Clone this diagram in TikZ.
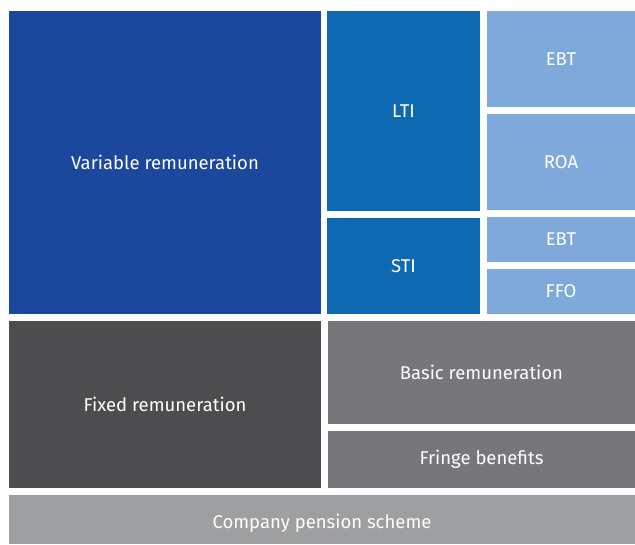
\documentclass[tikz,border=0pt]{standalone}
\usepackage{fontspec}
\setmainfont{Fira Sans}
\usepackage{tikz}

\definecolor{varblue}{HTML}{1B479C}
\definecolor{incblue}{HTML}{0F68B2}
\definecolor{kpiblue}{HTML}{7EA9DA}
\definecolor{fixgray}{HTML}{4D4D4F}
\definecolor{basegray}{HTML}{77777B}
\definecolor{pengray}{HTML}{9E9FA1}

\begin{document}
\begin{tikzpicture}[x=1pt, y=-1pt, font=\fontsize{18.5}{20}\selectfont]

	% --- Stili ---
	\tikzset{
		tile/.style={rectangle, draw=none, anchor=north west, inner sep=0pt, outer sep=0pt, text=white},
	}

	% --- Bordo ---
	\useasboundingbox (0,0) rectangle (635,544);

	% --- Remunerazione variabile ---
	\node[tile, fill=varblue, minimum width=312pt, minimum height=303pt] (variable) at (9,11) {Variable remuneration};
	\node[tile, fill=incblue, minimum width=153pt, minimum height=200pt] (lti) at (327,11) {LTI};
	\node[tile, fill=incblue, minimum width=153pt, minimum height=96pt] (sti) at (327,218) {STI};

	% Indicatori
	\node[tile, fill=kpiblue, minimum width=148pt, minimum height=96pt] (ebtL) at (487,11) {EBT};
	\node[tile, fill=kpiblue, minimum width=148pt, minimum height=96pt] (roa) at (487,114) {ROA};
	\node[tile, fill=kpiblue, minimum width=148pt, minimum height=45pt] (ebtS) at (487,217) {EBT};
	\node[tile, fill=kpiblue, minimum width=148pt, minimum height=45pt] (ffo) at (487,269) {FFO};

	% --- Remunerazione fissa ---
	\node[tile, fill=fixgray, minimum width=312pt, minimum height=167pt] (fixed) at (9,321) {Fixed remuneration};
	\node[tile, fill=basegray, minimum width=307pt, minimum height=103pt] (basic) at (328,321) {Basic remuneration};
	\node[tile, fill=basegray, minimum width=307pt, minimum height=57pt] (fringe) at (328,431) {Fringe benefits};

	% --- Pensione ---
	\node[tile, fill=pengray, minimum width=626pt, minimum height=49pt] (pension) at (9,495) {};
	\node[text=white] (pensionlabel) at ([yshift=-4pt]pension.center) {Company pension scheme};

\end{tikzpicture}
\end{document}
